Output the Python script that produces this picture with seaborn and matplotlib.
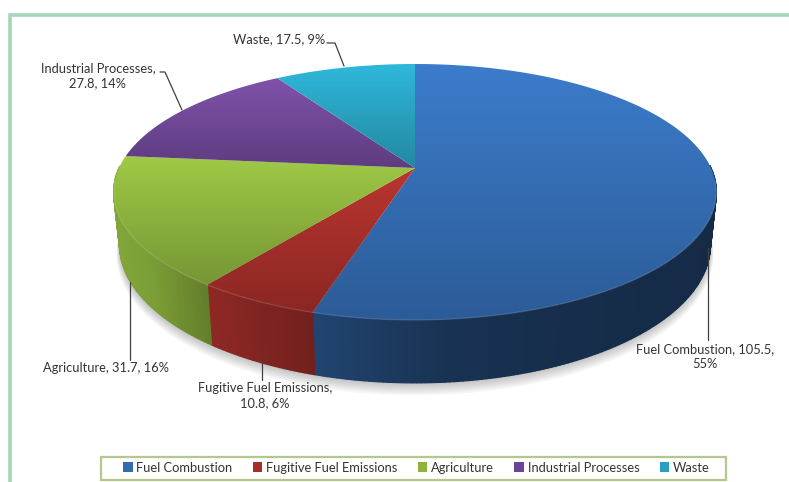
import numpy as np
import matplotlib
matplotlib.use("Agg")
import matplotlib.pyplot as plt
from matplotlib.patches import Polygon, Patch, Rectangle
import seaborn as sns

sns.set_style("white")
plt.rcParams['font.family'] = ['Lato', 'DejaVu Sans']

# Data
categories = ["Fuel Combustion", "Fugitive Fuel Emissions", "Agriculture", "Industrial Processes", "Waste"]
values = [105.5, 10.8, 31.7, 27.8, 17.5]
colors = sns.color_palette(["#3c7ccc", "#bb3530", "#9fca46", "#7f52ab", "#2fb8da"])
legend_colors = ["#2f6cb0", "#a52d2a", "#8db33c", "#6a4496", "#2a9fc0"]

# Wall shading, by pixel x along the visible rim of each slice
wall_x = [[315, 450, 716], [210, 315], [113, 150, 215], [113, 125], [300, 400]]
wall_shade = [[0.55, 0.40, 0.34], [0.76, 0.60], [0.82, 0.78, 0.60], [0.6, 0.6], [0.6, 0.6]]

# Pie geometry in pixels (perspective view of a circle)
CX, CY = 415, 168
RX, RY = 296, 123.5
PERSP = 0.1875
DEPTH = 51


def project(theta, drop=0.0, scale=1.0):
    # theta is clockwise from the top of the pie
    u = np.sin(theta) * scale
    v = np.cos(theta) * scale
    w = 1 + PERSP * v
    x = CX + RX * u / w * (1 - 0.02 * (drop > 0))
    y = CY - RY * v / w + drop / w
    return x, y


fig = plt.figure(figsize=(7.89, 4.82), dpi=100)
ax = fig.add_axes([0, 0, 1, 1])
ax.set_axis_off()

total = sum(values)
edges = np.cumsum([0] + values) / total * 2 * np.pi
pct = [round(v / total * 100) for v in values]

# Outer frame
ax.plot([10.5, 10.5, 789], [482, 15, 15], color="#a4d8b8", lw=2.6, zorder=1, solid_joinstyle="miter")

# Soft shadow under the pie, front half only
full = np.linspace(np.pi / 2, 3 * np.pi / 2, 200)
for k in range(7, 0, -1):
    sx, sy = project(full, DEPTH + 1.2 * k, 1 + 0.0015 * k)
    ax.fill(sx, sy, color="#303030", alpha=0.045, lw=0, zorder=2)

# Side walls
for i in range(len(values)):
    th = np.linspace(edges[i], edges[i + 1], max(8, int(120 * values[i] / total) * 4))
    for a, b in zip(th[:-1], th[1:]):
        if np.cos((a + b) / 2) > 0.02:
            continue
        x1, y1 = project(np.array([a, b]))
        x2, y2 = project(np.array([b, a]), DEPTH)
        f = np.interp(x1.mean(), wall_x[i], wall_shade[i])
        shade = np.array(colors[i]) * f
        ax.fill(np.r_[x1, x2], np.r_[y1, y2], fc=shade, ec=shade, lw=1.0, zorder=3)

# Top face, each slice with its own vertical gradient
for i in range(len(values)):
    th = np.linspace(edges[i], edges[i + 1], 200)
    x, y = project(th)
    px = np.r_[CX, x]
    py = np.r_[CY, y]
    grad = np.linspace(1.0, 0.74, 256)[:, None, None] * np.array(colors[i])[None, None, :]
    im = ax.imshow(grad, extent=(px.min(), px.max(), py.max(), py.min()), aspect="auto", zorder=4)
    poly = Polygon(np.c_[px, py], closed=True, transform=ax.transData, fc="none", ec="none")
    ax.add_patch(poly)
    im.set_clip_path(poly)
    # light rim at the front edge
    front = np.cos(th) < -0.1
    if front.any():
        ax.plot(x[front], y[front], color="white", alpha=0.15, lw=0.9, zorder=5)

ax.set_xlim(0, 789)
ax.set_ylim(482, 0)

# Leader lines
line_style = dict(color="#404040", lw=0.9, zorder=6)
ax.plot([344, 335, 327], [66, 43, 43], **line_style)
ax.plot([182, 165, 160], [110, 72, 72], **line_style)
ax.plot([130, 130], [282, 360], **line_style)
ax.plot([262, 262], [362, 380], **line_style)
ax.plot([708.5, 708.5], [248, 340], **line_style)

# Data labels
text_style = dict(fontsize=9.3, color="#333333", ha="center", va="center", linespacing=1.3, zorder=7)
ax.text(98, 76, f"{categories[3]},\n{values[3]}, {pct[3]}%", **text_style)
ax.text(279, 39, f"{categories[4]}, {values[4]}, {pct[4]}%", **text_style)
ax.text(106, 368, f"{categories[2]}, {values[2]}, {pct[2]}%", **text_style)
ax.text(265, 396, f"{categories[1]},\n{values[1]}, {pct[1]}%", **text_style)
ax.text(705, 357, f"{categories[0]}, {values[0]},\n{pct[0]}%", **text_style)

# Legend
ax.add_patch(Rectangle((101.5, 456.5), 625, 23, fc="white", ec="#b4c88e", lw=1.6, zorder=6))
handles = [Patch(fc=c, ec="none") for c in legend_colors]
leg = ax.legend(handles, categories, ncol=5, loc="center", bbox_to_anchor=(416.5, 467.5),
                bbox_transform=ax.transData, fontsize=9.3, frameon=False,
                handlelength=0.72, handleheight=0.72, handletextpad=0.3,
                columnspacing=1.58, labelcolor="#333333")
leg.set_zorder(8)

fig.savefig("out.png", dpi=100)
